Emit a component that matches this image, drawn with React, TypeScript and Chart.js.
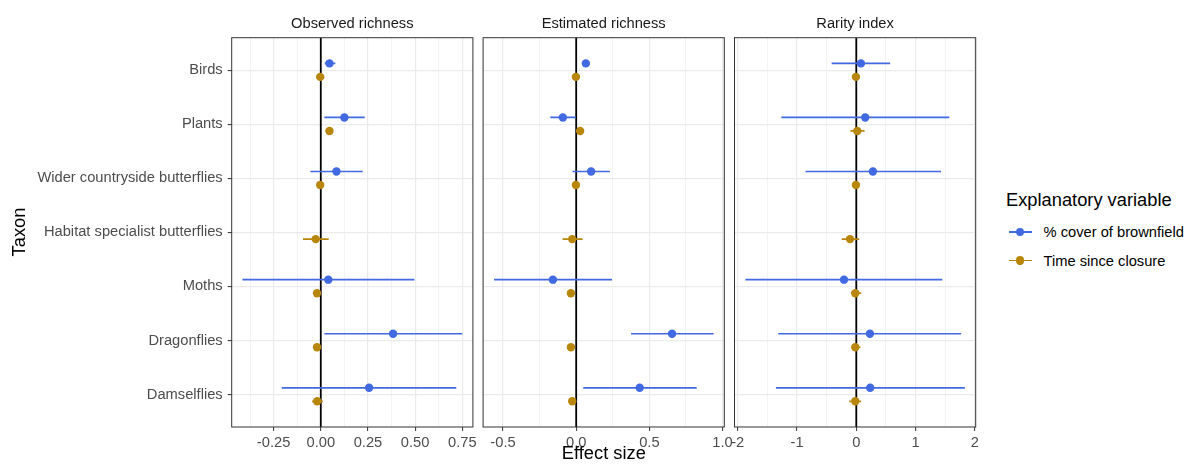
import React, { useEffect, useRef } from "react";
import { Chart, registerables } from "chart.js";
Chart.register(...registerables);

const FONT = "'Liberation Sans', Arial, Helvetica, sans-serif";

const categories = [
  "Birds",
  "Plants",
  "Wider countryside butterflies",
  "Habitat specialist butterflies",
  "Moths",
  "Dragonflies",
  "Damselflies",
];
const seriesNames = ["% cover of brownfield", "Time since closure"];
const seriesColors = ["#4169E1", "#B8860B"];
const panelTitles = ["Observed richness", "Estimated richness", "Rarity index"];

// Observed richness
const obsBrownEst = [0.046, 0.125, 0.083, null, 0.04, 0.383, 0.256];
const obsBrownLo = [0.021, 0.019, -0.055, null, -0.415, 0.019, -0.207];
const obsBrownHi = [0.077, 0.233, 0.222, null, 0.496, 0.75, 0.718];
const obsTimeEst = [-0.003, 0.046, -0.003, -0.027, -0.02, -0.02, -0.019];
const obsTimeLo = [-0.01, 0.036, -0.012, -0.094, -0.032, -0.032, -0.046];
const obsTimeHi = [0.004, 0.056, 0.006, 0.042, -0.008, -0.008, 0.011];

// Estimated richness
const estBrownEst = [0.066, -0.091, 0.102, null, -0.159, 0.655, 0.434];
const estBrownLo = [0.05, -0.177, -0.025, null, -0.561, 0.375, 0.048];
const estBrownHi = [0.082, -0.004, 0.23, null, 0.245, 0.939, 0.823];
const estTimeEst = [-0.002, 0.027, -0.002, -0.027, -0.036, -0.036, -0.027];
const estTimeLo = [-0.012, 0.015, -0.012, -0.093, -0.048, -0.048, -0.039];
const estTimeHi = [0.008, 0.039, 0.008, 0.044, -0.024, -0.024, -0.015];

// Rarity index
const rarBrownEst = [0.078, 0.151, 0.28, null, -0.207, 0.23, 0.235];
const rarBrownLo = [-0.415, -1.266, -0.857, null, -1.871, -1.316, -1.356];
const rarBrownHi = [0.571, 1.569, 1.429, null, 1.451, 1.77, 1.832];
const rarTimeEst = [-0.006, 0.017, -0.006, -0.106, -0.017, -0.017, -0.017];
const rarTimeLo = [-0.04, -0.1, -0.04, -0.246, -0.09, -0.07, -0.12];
const rarTimeHi = [0.03, 0.14, 0.03, 0.05, 0.084, 0.07, 0.08];

// Axis ticks
const obsMajorTicks = [-0.25, 0, 0.25, 0.5, 0.75];
const obsTickLabels = ["-0.25", "0.00", "0.25", "0.50", "0.75"];
const obsMinorTicks = [-0.375, -0.125, 0.125, 0.375, 0.625];
const estMajorTicks = [-0.5, 0, 0.5, 1.0];
const estTickLabels = ["-0.5", "0.0", "0.5", "1.0"];
const estMinorTicks = [-0.25, 0.25, 0.75];
const rarMajorTicks = [-2, -1, 0, 1, 2];
const rarTickLabels = ["-2", "-1", "0", "1", "2"];
const rarMinorTicks = [-1.5, -0.5, 0.5, 1.5];

const obsRange = [-0.472, 0.806];
const estRange = [-0.636, 1.012];
const rarRange = [-2.055, 2.015];

const DODGE = 0.125;
const PANEL_TOP = 37.7;
const PANEL_BOTTOM = 427;
const H = 470;

type PanelSpec = {
  title: string;
  est: (number | null)[][];
  lo: (number | null)[][];
  hi: (number | null)[][];
  major: number[];
  labels: string[];
  minor: number[];
  range: number[];
  left: number;
  right: number;
  canvasLeft: number;
  canvasWidth: number;
  showY: boolean;
};

const panels: PanelSpec[] = [
  {
    title: panelTitles[0],
    est: [obsBrownEst, obsTimeEst],
    lo: [obsBrownLo, obsTimeLo],
    hi: [obsBrownHi, obsTimeHi],
    major: obsMajorTicks,
    labels: obsTickLabels,
    minor: obsMinorTicks,
    range: obsRange,
    left: 231.7,
    right: 472.9,
    canvasLeft: 0,
    canvasWidth: 495,
    showY: true,
  },
  {
    title: panelTitles[1],
    est: [estBrownEst, estTimeEst],
    lo: [estBrownLo, estTimeLo],
    hi: [estBrownHi, estTimeHi],
    major: estMajorTicks,
    labels: estTickLabels,
    minor: estMinorTicks,
    range: estRange,
    left: 483.1,
    right: 724.3,
    canvasLeft: 463,
    canvasWidth: 283,
    showY: false,
  },
  {
    title: panelTitles[2],
    est: [rarBrownEst, rarTimeEst],
    lo: [rarBrownLo, rarTimeLo],
    hi: [rarBrownHi, rarTimeHi],
    major: rarMajorTicks,
    labels: rarTickLabels,
    minor: rarMinorTicks,
    range: rarRange,
    left: 734.5,
    right: 975.7,
    canvasLeft: 714,
    canvasWidth: 283,
    showY: false,
  },
];

const panelPlugin = {
  id: "panelDecor",
  beforeDatasetsDraw(chart: any) {
    const { ctx, chartArea } = chart;
    const x = chart.scales.x;
    const y = chart.scales.y;
    ctx.save();
    ctx.beginPath();
    ctx.rect(chartArea.left, chartArea.top, chartArea.right - chartArea.left, chartArea.bottom - chartArea.top);
    ctx.clip();
    const x0 = x.getPixelForValue(0);
    ctx.strokeStyle = "#000000";
    ctx.lineWidth = 1.8;
    ctx.beginPath();
    ctx.moveTo(x0, chartArea.top);
    ctx.lineTo(x0, chartArea.bottom);
    ctx.stroke();
    chart.data.datasets.forEach((ds: any) => {
      ctx.strokeStyle = ds.backgroundColor;
      ctx.lineWidth = 1.7;
      ds.data.forEach((pt: any) => {
        if (pt.lo == null || pt.hi == null) return;
        const py = y.getPixelForValue(pt.y);
        ctx.beginPath();
        ctx.moveTo(x.getPixelForValue(pt.lo), py);
        ctx.lineTo(x.getPixelForValue(pt.hi), py);
        ctx.stroke();
      });
    });
    ctx.restore();
  },
  afterDraw(chart: any) {
    const { ctx, chartArea } = chart;
    ctx.save();
    ctx.strokeStyle = "#333333";
    ctx.lineWidth = 1;
    ctx.strokeRect(chartArea.left, chartArea.top, chartArea.right - chartArea.left, chartArea.bottom - chartArea.top);
    ctx.restore();
  },
};

function Panel({ spec }: { spec: PanelSpec }) {
  const ref = useRef<HTMLCanvasElement | null>(null);
  useEffect(() => {
    if (!ref.current) return;
    const isMajor = (v: number) => spec.major.some((m) => Math.abs(m - v) < 1e-9);
    const allTicks = [...spec.major, ...spec.minor].sort((a, b) => a - b);
    const datasets = seriesNames.map((name, s) => ({
      label: name,
      type: "scatter" as const,
      data: categories
        .map((_, i) => ({
          x: spec.est[s][i],
          y: i + 1 + (s === 0 ? -DODGE : DODGE),
          lo: spec.lo[s][i],
          hi: spec.hi[s][i],
        }))
        .filter((p) => p.x != null),
      backgroundColor: seriesColors[s],
      borderWidth: 0,
      pointRadius: 4.2,
      pointHoverRadius: 4.2,
    }));
    const padLeft = spec.showY ? 0 : spec.left - spec.canvasLeft;
    const chart = new Chart(ref.current, {
      type: "scatter",
      data: { datasets: datasets as any },
      options: {
        animation: false,
        responsive: false,
        events: [],
        layout: {
          padding: {
            left: padLeft,
            right: spec.canvasLeft + spec.canvasWidth - spec.right,
            top: PANEL_TOP,
            bottom: 0,
          },
        },
        plugins: { legend: { display: false }, tooltip: { enabled: false }, title: { display: false } },
        scales: {
          x: {
            type: "linear",
            min: spec.range[0],
            max: spec.range[1],
            afterBuildTicks: (scale: any) => {
              scale.ticks = allTicks.map((v) => ({ value: v }));
            },
            afterFit: (scale: any) => {
              scale.height = H - PANEL_BOTTOM;
            },
            border: { display: false },
            grid: {
              color: "#EBEBEB",
              lineWidth: (ctx: any) => (isMajor(ctx.tick.value) ? 1.2 : 0.6),
              tickColor: (ctx: any) => (isMajor(ctx.tick.value) ? "#333333" : "rgba(0,0,0,0)"),
              tickLength: 4,
              tickWidth: 1,
              drawTicks: true,
            },
            ticks: {
              autoSkip: false,
              maxRotation: 0,
              padding: 3,
              color: "#4D4D4D",
              font: { family: FONT, size: 14.7 },
              callback: (value: any) => {
                const idx = spec.major.findIndex((m) => Math.abs(m - Number(value)) < 1e-9);
                return idx >= 0 ? spec.labels[idx] : "";
              },
            },
          },
          y: {
            type: "linear",
            min: 0.4,
            max: 7.6,
            reverse: true,
            afterBuildTicks: (scale: any) => {
              scale.ticks = categories.map((_, i) => ({ value: i + 1 }));
            },
            afterFit: (scale: any) => {
              scale.width = spec.showY ? spec.left - spec.canvasLeft : 0;
            },
            border: { display: false },
            grid: {
              color: "#EBEBEB",
              lineWidth: 1.2,
              tickColor: "#333333",
              tickLength: 4,
              tickWidth: 1,
              drawTicks: spec.showY,
            },
            ticks: {
              display: spec.showY,
              autoSkip: false,
              padding: 5,
              color: "#4D4D4D",
              font: { family: FONT, size: 14.7 },
              callback: (value: any) => categories[Math.round(Number(value)) - 1] ?? "",
            },
          },
        },
      },
      plugins: [panelPlugin],
    });
    return () => chart.destroy();
  }, [spec]);
  return (
    <canvas
      ref={ref}
      width={spec.canvasWidth}
      height={H}
      style={{ position: "absolute", left: spec.canvasLeft, top: 0, width: spec.canvasWidth, height: H }}
    />
  );
}

export default function App() {
  const textBase: React.CSSProperties = { position: "absolute", fontFamily: FONT, whiteSpace: "nowrap" };
  return (
    <div style={{ position: "absolute", left: 0, top: 0, width: 1195, height: H, background: "#FFFFFF", overflow: "hidden" }}>
      {panels.map((p, i) => (
        <Panel key={i} spec={p} />
      ))}
      {panels.map((p, i) => (
        <div
          key={"t" + i}
          style={{
            ...textBase,
            left: p.left,
            width: p.right - p.left,
            top: 13.3,
            height: 20,
            lineHeight: "20px",
            fontSize: 14.7,
            color: "#1A1A1A",
            textAlign: "center",
          }}
        >
          {p.title}
        </div>
      ))}
      <div
        style={{
          ...textBase,
          left: 503.8,
          width: 200,
          top: 441.5,
          height: 22,
          lineHeight: "22px",
          fontSize: 18.3,
          color: "#000000",
          textAlign: "center",
        }}
      >
        Effect size
      </div>
      <div
        style={{
          ...textBase,
          left: 19 - 50,
          width: 100,
          top: 232 - 11,
          height: 22,
          lineHeight: "22px",
          fontSize: 18.3,
          color: "#000000",
          textAlign: "center",
          transform: "rotate(-90deg)",
        }}
      >
        Taxon
      </div>
      <div
        style={{
          ...textBase,
          left: 1006,
          top: 200 - 11,
          height: 22,
          lineHeight: "22px",
          fontSize: 18.3,
          color: "#000000",
        }}
      >
        Explanatory variable
      </div>
      {seriesNames.map((name, s) => {
        const cy = 232 + s * 28.5;
        return (
          <React.Fragment key={"l" + s}>
            <div
              style={{
                position: "absolute",
                left: 1008.5,
                top: cy - 0.85,
                width: 23,
                height: 1.7,
                background: seriesColors[s],
              }}
            />
            <div
              style={{
                position: "absolute",
                left: 1020 - 4.2,
                top: cy - 4.2,
                width: 8.4,
                height: 8.4,
                borderRadius: "50%",
                background: seriesColors[s],
              }}
            />
            <div
              style={{
                ...textBase,
                left: 1043.5,
                top: cy - 10,
                height: 20,
                lineHeight: "20px",
                fontSize: 14.7,
                color: "#000000",
              }}
            >
              {name}
            </div>
          </React.Fragment>
        );
      })}
    </div>
  );
}
